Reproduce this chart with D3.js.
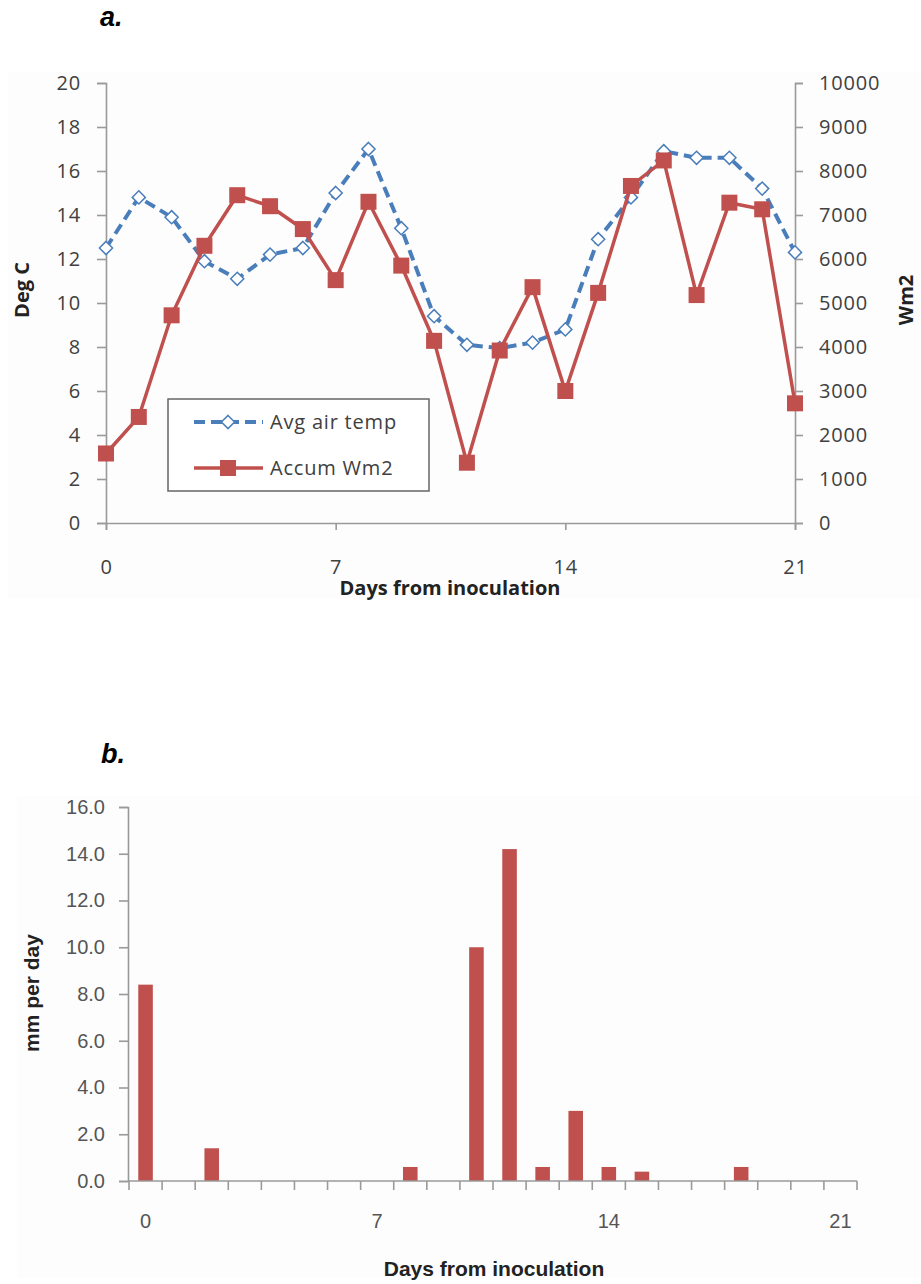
<!DOCTYPE html>
<html>
<head>
<meta charset="utf-8">
<script src="https://cdn.jsdelivr.net/npm/d3@7"></script>
<style>
  body { margin: 0; background: #fff; }
  svg { display: block; }
  .tick-lbl { font-family: "Open Sans", sans-serif; font-size: 20px; fill: #404040; letter-spacing: 0.8px; }
  .ttl { font-family: "Open Sans", sans-serif; font-weight: bold; font-size: 20px; fill: #222; }
  .btick { font-family: "Liberation Sans", sans-serif; font-size: 20px; fill: #555; }
  .bttl { font-family: "Liberation Sans", sans-serif; font-weight: bold; font-size: 21px; fill: #222; }
  .panel { font-family: "Liberation Sans", Arial, sans-serif; font-weight: bold; font-style: italic; font-size: 27px; fill: #000; }
</style>
</head>
<body>
<svg id="chart" width="921" height="1284"></svg>
<script>
// days from inoculation
var days = d3.range(0, 22);
// a. average air temperature (deg C)
var airTemp = [12.5, 14.8, 13.9, 11.9, 11.1, 12.2, 12.5, 15.0, 17.0, 13.4, 9.4, 8.1,
               7.95, 8.2, 8.8, 12.9, 14.8, 16.9, 16.6, 16.6, 15.2, 12.3];
// a. accumulated radiation (Wm2)
var accumWm2 = [1580, 2410, 4720, 6300, 7450, 7200, 6680, 5520, 7300, 5850, 4140, 1370,
                3920, 5360, 3000, 5230, 7660, 8240, 5180, 7280, 7130, 2720];
// b. rainfall (mm per day)
var rain = [8.4, 0, 1.4, 0, 0, 0, 0, 0, 0.6, 0, 10.0, 14.2, 0.6, 3.0, 0.6, 0.4, 0, 0, 0.6, 0, 0, 0];

var tempTicks = d3.range(0, 21, 2);
var wmTicks = d3.range(0, 10001, 1000);
var dayTicks = [0, 7, 14, 21];
var rainTicks = d3.range(0, 16.1, 2);

var svg = d3.select("#chart");
var blue = "#4a7ebb", red = "#c0504d", axisCol = "#9a9a9a";

// ---------- chart a ----------
svg.append("rect").attr("x", 8).attr("y", 72).attr("width", 913).attr("height", 527).attr("fill", "#fdfdfd");
svg.append("text").attr("class", "panel").attr("x", 100).attr("y", 26).text("a.");

var x = d3.scaleLinear().domain([0, 21]).range([106, 795]);
var yL = d3.scaleLinear().domain([0, 20]).range([523, 83]);
var yR = d3.scaleLinear().domain([0, 10000]).range([523, 83]);

var gA = svg.append("g");

// axes
var left = gA.append("g").attr("transform", "translate(106,0)")
  .call(d3.axisLeft(yL).tickValues(tempTicks).tickSize(9).tickPadding(16).tickFormat(d3.format("d")));
var right = gA.append("g").attr("transform", "translate(795,0)")
  .call(d3.axisRight(yR).tickValues(wmTicks).tickSize(8).tickPadding(16).tickFormat(d3.format("d")));
var bottom = gA.append("g").attr("transform", "translate(0,523)")
  .call(d3.axisBottom(x).tickValues(dayTicks).tickSize(7).tickPadding(26).tickFormat(d3.format("d")));
[left, right, bottom].forEach(function(g){
  g.select(".domain").attr("stroke", axisCol).attr("stroke-width", 1.6);
  g.selectAll(".tick line").attr("stroke", axisCol).attr("stroke-width", 1.6);
  g.selectAll(".tick text").attr("class", "tick-lbl").attr("font-size", null).attr("font-family", null).attr("fill", null);
});
bottom.selectAll(".tick text").attr("dy", "0.9em");

gA.append("text").attr("class", "ttl").attr("x", 450).attr("y", 595).attr("text-anchor", "middle").text("Days from inoculation");
gA.append("text").attr("class", "ttl").attr("text-anchor", "middle")
  .attr("transform", "translate(29,290) rotate(-90)").text("Deg C");
gA.append("text").attr("class", "ttl").attr("text-anchor", "middle")
  .attr("transform", "translate(913,300) rotate(-90)").text("Wm2");

// temperature line
var lineT = d3.line().x(function(d, i){ return x(days[i]); }).y(function(d){ return yL(d); });
gA.append("path").datum(airTemp).attr("d", lineT).attr("fill", "none")
  .attr("stroke", blue).attr("stroke-width", 4).attr("stroke-dasharray", "11,6");
var diamond = d3.symbol().type(d3.symbolDiamond2).size(110);
gA.selectAll(".dia").data(airTemp).enter().append("path").attr("class", "dia")
  .attr("d", diamond)
  .attr("transform", function(d, i){ return "translate(" + x(days[i]) + "," + yL(d) + ")"; })
  .attr("fill", "#fff").attr("stroke", blue).attr("stroke-width", 1.5);

// radiation line
var lineW = d3.line().x(function(d, i){ return x(days[i]); }).y(function(d){ return yR(d); });
gA.append("path").datum(accumWm2).attr("d", lineW).attr("fill", "none")
  .attr("stroke", red).attr("stroke-width", 3.5);
gA.selectAll(".sq").data(accumWm2).enter().append("rect").attr("class", "sq")
  .attr("x", function(d, i){ return x(days[i]) - 8; })
  .attr("y", function(d){ return yR(d) - 8; })
  .attr("width", 16).attr("height", 16).attr("fill", red);

// legend
var lg = gA.append("g");
lg.append("rect").attr("x", 168).attr("y", 399).attr("width", 261).attr("height", 92)
  .attr("fill", "#fff").attr("stroke", "#666").attr("stroke-width", 1.5);
lg.append("line").attr("x1", 194).attr("x2", 263).attr("y1", 422).attr("y2", 422)
  .attr("stroke", blue).attr("stroke-width", 4).attr("stroke-dasharray", "11,6");
lg.append("path").attr("d", diamond).attr("transform", "translate(228,422)")
  .attr("fill", "#fff").attr("stroke", blue).attr("stroke-width", 1.5);
lg.append("text").attr("class", "tick-lbl").attr("x", 270).attr("y", 429).text("Avg air temp");
lg.append("line").attr("x1", 194).attr("x2", 263).attr("y1", 468).attr("y2", 468)
  .attr("stroke", red).attr("stroke-width", 3.5);
lg.append("rect").attr("x", 220).attr("y", 460).attr("width", 16).attr("height", 16).attr("fill", red);
lg.append("text").attr("class", "tick-lbl").attr("x", 270).attr("y", 475).text("Accum Wm2");

// ---------- chart b ----------
svg.append("rect").attr("x", 17).attr("y", 796).attr("width", 904).attr("height", 482).attr("fill", "#fdfdfd");
svg.append("text").attr("class", "panel").attr("x", 101).attr("y", 763).text("b.");

var xCat = d3.scaleBand().domain(days).range([129, 857]).padding(0);
var xBar = xCat.copy().paddingInner(0.56).paddingOuter(0.28);
var yB = d3.scaleLinear().domain([0, 16]).range([1181, 807]);

var gB = svg.append("g");
gB.selectAll(".bar").data(rain).enter().append("rect").attr("class", "bar")
  .attr("x", function(d, i){ return xBar(days[i]); })
  .attr("width", xBar.bandwidth())
  .attr("y", function(d){ return yB(d); })
  .attr("height", function(d){ return yB(0) - yB(d); })
  .attr("fill", red);

var bl = gB.append("g").attr("transform", "translate(128,0)")
  .call(d3.axisLeft(yB).tickValues(rainTicks).tickSize(9).tickPadding(14).tickFormat(d3.format(".1f")));
bl.select(".domain").attr("stroke", axisCol).attr("stroke-width", 1.6);
bl.selectAll(".tick line").attr("stroke", axisCol).attr("stroke-width", 1.6);
bl.selectAll(".tick text").attr("class", "btick").attr("font-size", null).attr("font-family", null).attr("fill", null);

// category axis: boundary ticks, labels at centres
gB.append("line").attr("x1", 128).attr("x2", xCat.range()[1]).attr("y1", yB(0)).attr("y2", yB(0))
  .attr("stroke", axisCol).attr("stroke-width", 1.6);
var bounds = days.map(function(d){ return xCat(d); }).concat([xCat.range()[1]]);
gB.selectAll(".btk").data(bounds).enter().append("line").attr("class", "btk")
  .attr("x1", function(d){ return d; }).attr("x2", function(d){ return d; })
  .attr("y1", yB(0)).attr("y2", yB(0) + 9)
  .attr("stroke", axisCol).attr("stroke-width", 1.6);
gB.selectAll(".blbl").data(dayTicks).enter().append("text").attr("class", "btick")
  .attr("x", function(d){ return xCat(d) + xCat.bandwidth() / 2; })
  .attr("y", 1228).attr("text-anchor", "middle").text(function(d){ return d; });

gB.append("text").attr("class", "bttl").attr("x", 494).attr("y", 1276).attr("text-anchor", "middle")
  .text("Days from inoculation");
gB.append("text").attr("class", "bttl").attr("text-anchor", "middle")
  .attr("transform", "translate(39,993) rotate(-90)").text("mm per day");
</script>
</body>
</html>
